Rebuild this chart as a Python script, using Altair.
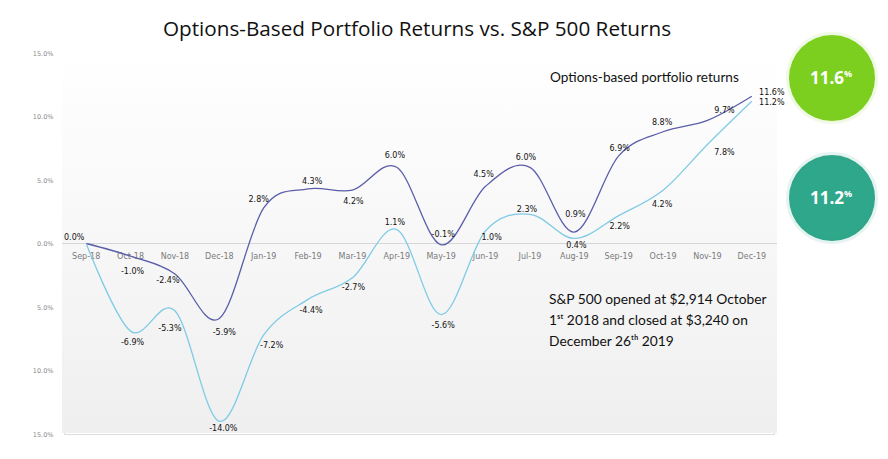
import altair as alt
import pandas as pd

months = ["Sep-18", "Oct-18", "Nov-18", "Dec-18", "Jan-19", "Feb-19", "Mar-19", "Apr-19",
          "May-19", "Jun-19", "Jul-19", "Aug-19", "Sep-19", "Oct-19", "Nov-19", "Dec-19"]
options_returns = [0.0, -1.0, -2.4, -5.9, 2.8, 4.3, 4.2, 6.0, -0.1, 4.5, 6.0, 0.9, 6.9, 8.8, 9.7, 11.6]
sp500_returns = [0.0, -6.9, -5.3, -14.0, -7.2, -4.4, -2.7, 1.1, -5.6, 1.0, 2.3, 0.4, 2.2, 4.2, 7.8, 11.2]
y_ticks = [-15, -10, -5, 0, 5, 10, 15]

title_text = "Options-Based Portfolio Returns vs. S&P 500 Returns"
legend_text = "Options-based portfolio returns"
note_lines = ["S&P 500 opened at $2,914 October",
              "1ˢᵗ 2018 and closed at $3,240 on",
              "December 26ᵗʰ 2019"]

# label offsets (pixels) for the data labels
opt_dx = [-12, 2, -7, 5, -5, 4, 1, -2, 2, -2, -4, 1, 1, -1, 17, 20]
opt_dy = [-6, 16, 7, 15, -8, -7, 12, -11, -10, -11, -9, -17, -7, -9, -9, -3]
sp_dx = [None, 2, -5, 4, 8, 3, 1, -2, 2, 6, -3, 2, 1, -1, 17, 20]
sp_dy = [None, 12, 18, 8, 11, 12, 10, -7, 11, 7, -4, 8, 11, 15, 9, 2]

W, H = 710, 381
DARK = "#5a5ea8"
LIGHT = "#7fcbe5"

df = pd.DataFrame({
    "idx": list(range(len(months))) * 2,
    "month": months * 2,
    "series": ["Options"] * len(months) + ["S&P 500"] * len(months),
    "value": options_returns + sp500_returns,
})
df["label"] = df["value"].map(lambda v: f"{v:.1f}%")

xs = alt.Scale(type="point", domain=months, padding=0.5)
ys = alt.Scale(domain=[-15, 15], nice=False, zero=False)
yaxis = alt.Axis(values=y_ticks, labelExpr="format(abs(datum.value), '.1f') + '%'",
                 domain=False, ticks=False, grid=False, labelFontSize=6.5,
                 labelColor="#8a8a8a", labelFont="DejaVu Sans", labelPadding=11,
                 title=None)
X = alt.X("month:N", scale=xs, axis=None)
Y = alt.Y("value:Q", scale=ys, axis=yaxis)

base = alt.Chart(df)

bg = alt.Chart(pd.DataFrame({"a": [0]})).mark_rect(
    color=alt.Gradient(gradient="linear", stops=[alt.GradientStop(color="#ffffff", offset=0),
                                                  alt.GradientStop(color="#efefef", offset=1)],
                       x1=0, x2=0, y1=0, y2=1)
).encode(x=alt.value(-2), x2=alt.value(713), y=alt.value(0), y2=alt.value(380))

zero_df = pd.DataFrame({"value": [0]})
zero = alt.Chart(zero_df).mark_rule(color="#d6d6d6", strokeWidth=1).encode(
    y=Y, x=alt.value(-2), x2=alt.value(713))

month_df = pd.DataFrame({"month": months, "value": [0] * len(months)})
month_labels = alt.Chart(month_df).mark_text(
    fontSize=8, font="DejaVu Sans", color="#7a7a7a", dy=13
).encode(x=X, y=Y, text="month:N")

lines = base.mark_line(interpolate="cardinal", strokeWidth=1.3).encode(
    x=X, y=Y,
    color=alt.Color("series:N", scale=alt.Scale(domain=["Options", "S&P 500"], range=[DARK, LIGHT]),
                    legend=None),
    detail="series:N")

label_layers = []
for s, dxs, dys in [("Options", opt_dx, opt_dy), ("S&P 500", sp_dx, sp_dy)]:
    for i in range(len(months)):
        if dxs[i] is None:
            continue
        label_layers.append(
            base.transform_filter((alt.datum.series == s) & (alt.datum.idx == i))
            .mark_text(fontSize=8, font="DejaVu Sans", color="#111111", dx=dxs[i], dy=dys[i])
            .encode(x=X, y=Y, text="label:N"))

one = pd.DataFrame({"a": [0]})
title = alt.Chart(one).mark_text(text=title_text, font="Open Sans", fontSize=20.7, color="#111111",
                                 align="center", baseline="middle").encode(
    x=alt.value(353), y=alt.value(-23))
legend = alt.Chart(one).mark_text(text=legend_text, font="Lato", fontSize=13.6,
                                  color="#111111", align="left", baseline="middle").encode(
    x=alt.value(486), y=alt.value(25))

note_layers = []
for k, line in enumerate(note_lines):
    note_layers.append(alt.Chart(one).mark_text(text=line, font="Lato", fontSize=13.8, color="#111111",
                                                align="left", baseline="middle").encode(
        x=alt.value(485), y=alt.value(247 + 21 * k)))

circles = []
for cy, col, val in [(25, "#7dcf1f", options_returns[-1]), (145, "#2fa78a", sp500_returns[-1])]:
    circles.append(alt.Chart(one).mark_point(shape="circle", filled=True, size=7400, color=col, opacity=1,
                                             stroke=col, strokeOpacity=0.12, strokeWidth=6).encode(
        x=alt.value(768), y=alt.value(cy)))
    circles.append(alt.Chart(one).mark_text(text=f"{val:.1f}", font="Open Sans", fontWeight="bold",
                                            fontSize=17, color="white", align="center",
                                            baseline="middle").encode(
        x=alt.value(763), y=alt.value(cy + 1)))
    circles.append(alt.Chart(one).mark_text(text="%", font="Open Sans", fontWeight="bold",
                                            fontSize=9, color="white", align="center",
                                            baseline="middle").encode(
        x=alt.value(784), y=alt.value(cy - 4)))

chart = alt.layer(bg, zero, month_labels, lines, *label_layers, title, legend, *note_layers, *circles).properties(
    width=W, height=H,
    autosize=alt.AutoSizeParams(type="none"),
    padding={"left": 64, "top": 53, "right": 114, "bottom": 25},
).configure_view(stroke=None).configure(background="white")

chart.save("out.html", embed_options={"renderer": "svg", "actions": False})
